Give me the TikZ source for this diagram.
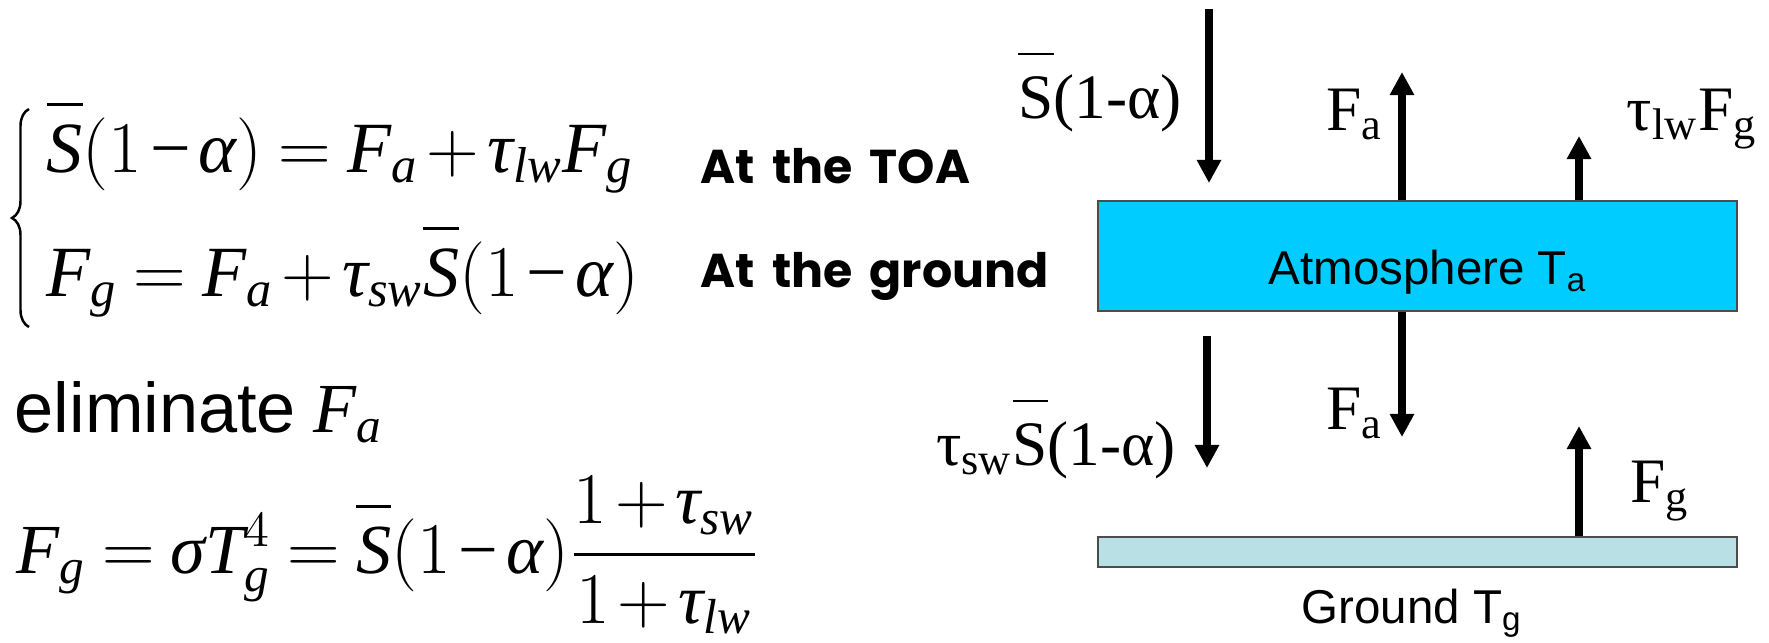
\documentclass[tikz,border=0pt]{standalone}
\usepackage{amsmath}
\usepackage{fontspec}
\setmainfont{Liberation Serif}
\newfontfamily\arialfont{Liberation Sans}
\newfontfamily\comicfont{Poppins}[WordSpace=1.7]
\usetikzlibrary{arrows.meta,decorations.pathreplacing}

\definecolor{atmcyan}{RGB}{0,204,255}
\definecolor{gndblue}{RGB}{185,224,228}

% Times style letters in math
\DeclareSymbolFont{tnrit}{TU}{\rmdefault}{m}{it}
\DeclareSymbolFont{tnrup}{TU}{\rmdefault}{m}{n}
\newcommand\setlet[1]{\Umathcode`#1=0 \symtnrit `#1\relax}
\setlet{S}\setlet{F}\setlet{T}\setlet{a}\setlet{g}\setlet{l}\setlet{w}\setlet{s}
\Umathchardef\alpha=0 \symtnrit "03B1\relax
\Umathchardef\tau=0 \symtnrit "03C4\relax
\Umathchardef\sigma=0 \symtnrit "03C3\relax
\Umathcode`1=0 \symtnrup `1\relax
\Umathcode`4=0 \symtnrup `4\relax
\Umathcode`(=4 \symtnrup `(\relax
\Umathcode`)=5 \symtnrup `)\relax
\Umathcode`+=2 \symtnrup `+\relax
\Umathcode`-=2 \symtnrup "2212\relax
\Umathcode`==3 \symtnrup `=\relax
\medmuskip=2mu \thickmuskip=4mu

\newcommand\Sbar{\overline{S\rule{0pt}{0.8em}}}
\newcommand\Sbarup{$\overline{\text{S}\rule{0pt}{0.88em}}$}

\begin{document}
\begin{tikzpicture}[x=0.01cm, y=-0.01cm,
  flux/.style={line width=2.2pt, -{Triangle[length=0.23cm, width=0.23cm]}},
  layer/.style={draw=black!70, line width=0.5pt, minimum width=6.39cm},
  eqn/.style={inner sep=0pt, anchor=base west, font=\fontsize{20.5}{25}\selectfont},
  note/.style={inner sep=0pt, anchor=base west, font=\comicfont\bfseries\fontsize{13.5}{16}\selectfont},
  flabel/.style={inner sep=0pt, anchor=base, font=\fontsize{18}{22}\selectfont},
  boxtext/.style={font=\arialfont\fontsize{13.5}{16}\selectfont}]
  \useasboundingbox (0,0) rectangle (1769,642);
  % balance at TOA and ground
  \node[eqn] (toa) at (46,172) {$\Sbar(1-\alpha) = F_a + \tau_{lw}F_g$};
  \node[eqn] (sfc) at (46,296) {$F_g = F_a + \tau_{sw}\Sbar(1-\alpha)$};
  \node[note] (toalbl) at (700,183) {At the TOA};
  \node[note] (sfclbl) at (700,287) {At the ground};
  \draw[decorate, decoration={brace, amplitude=0.17cm}, line width=0.7pt] (29,327) -- (29,109);
  % eliminate
  \node[eqn, font=\arialfont\fontsize{20}{24}\selectfont] (elim) at (14,432)
    {eliminate\hspace{0.25em}\fontsize{20}{24}\selectfont$F_a$};
  \node[eqn, font=\fontsize{20}{24}\selectfont] (result) at (16,573)
    {$F_g = \sigma T_g^4 = \Sbar(1-\alpha)\dfrac{1+\tau_{sw}}{1+\tau_{lw}}$};

  % atmosphere and ground
  \node[layer, boxtext, fill=atmcyan, minimum height=1.10cm, text height=16pt, text depth=0pt]
    (atm) at (1417.5,256) {\hspace*{0.21cm}Atmosphere T\textsubscript{a}};
  \node[layer, fill=gndblue, minimum height=0.30cm] (gnd) at (1417.5,552) {};
  \node[boxtext, anchor=base] (gndlbl) at (1412,623) {Ground T\textsubscript{g}};

  % fluxes above
  \coordinate (sunTop) at (1209,9);
  \coordinate (sunEnd) at (1209,183);
  \draw[flux] (sunTop) -- (sunEnd);
  \node[flabel] (sunlbl) at (1100,118) {\Sbarup(1-α)};
  \coordinate (faUp) at (1402,72);
  \draw[flux] (atm.north -| faUp) -- (faUp);
  \node[flabel] (faUplbl) at (1355,130) {F\textsubscript{a}};
  \coordinate (lwUp) at (1579,136);
  \draw[flux] (atm.north -| lwUp) -- (lwUp);
  \node[flabel] (lwUplbl) at (1692,130) {τ\textsubscript{lw}F\textsubscript{g}};

  % fluxes below
  \coordinate (swTop) at (1207,336);
  \coordinate (swEnd) at (1207,468);
  \draw[flux] (swTop) -- (swEnd);
  \node[flabel] (swlbl) at (1056,465) {τ\textsubscript{sw}\Sbarup(1-α)};
  \coordinate (faDown) at (1402,437);
  \draw[flux] (atm.south -| faDown) -- (faDown);
  \node[flabel] (faDownlbl) at (1355,429) {F\textsubscript{a}};
  \coordinate (fgUp) at (1579,426);
  \draw[flux] (gnd.north -| fgUp) -- (fgUp);
  \node[flabel] (fglbl) at (1660,502) {F\textsubscript{g}};
\end{tikzpicture}
\end{document}
